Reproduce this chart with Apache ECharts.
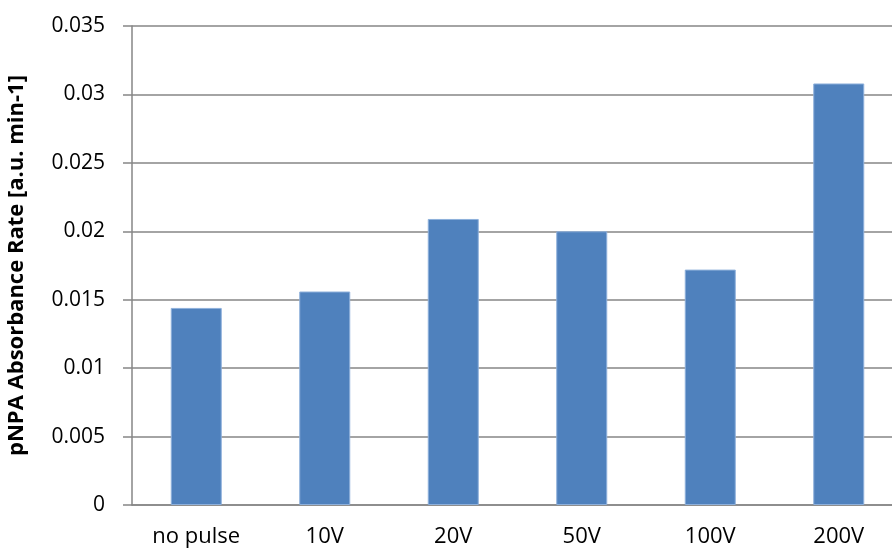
<!DOCTYPE html>
<html>
<head>
<meta charset="utf-8">
<script src="https://cdn.jsdelivr.net/npm/echarts@6/dist/echarts.min.js"></script>
<style>
  html, body { margin: 0; padding: 0; background: #fff; }
  #chart { width: 892px; height: 552px; }
</style>
</head>
<body>
<div id="chart"></div>
<script>
// Pulse conditions along the x axis
const categories = ['no pulse', '10V', '20V', '50V', '100V', '200V'];
// pNPA absorbance rate per condition
const rates = [0.0144, 0.0156, 0.0209, 0.0200, 0.0172, 0.0308];
// Value axis range
const yMin = 0;
const yMax = 0.035;
const yStep = 0.005;

const font = '"Open Sans", "Liberation Sans", sans-serif';
const chart = echarts.init(document.getElementById('chart'), null, { renderer: 'canvas' });

chart.setOption({
  animation: false,
  backgroundColor: '#ffffff',
  // plot area runs slightly past the right edge of the canvas
  grid: { left: 132, top: 26, width: 771, height: 479, containLabel: false, outerBoundsMode: 'none' },
  xAxis: {
    type: 'category',
    data: categories,
    axisLine: { show: true, lineStyle: { color: '#868686', width: 1.5 } },
    axisTick: { show: false },
    axisLabel: { color: '#000', fontFamily: font, fontSize: 22, margin: 21 },
    splitLine: { show: false }
  },
  yAxis: {
    type: 'value',
    min: yMin,
    max: yMax,
    interval: yStep,
    name: 'pNPA Absorbance Rate [a.u. min-1]',
    nameLocation: 'middle',
    nameGap: 104,
    nameRotate: 90,
    nameTextStyle: { color: '#000', fontFamily: font, fontSize: 22, fontWeight: 'bold' },
    axisLine: { show: true, lineStyle: { color: '#868686', width: 1.5 } },
    axisTick: { show: true, inside: false, length: 9, lineStyle: { color: '#868686', width: 1.5 } },
    axisLabel: {
      color: '#000', fontFamily: font, fontSize: 21, margin: 27,
      formatter: v => String(parseFloat(v.toFixed(3)))
    },
    splitLine: { show: true, lineStyle: { color: '#868686', width: 1.5 } }
  },
  series: [{
    type: 'bar',
    data: rates,
    barWidth: 51,
    itemStyle: { color: '#4F81BD', borderColor: '#8EB0DB', borderWidth: 1 }
  }]
});
</script>
</body>
</html>
